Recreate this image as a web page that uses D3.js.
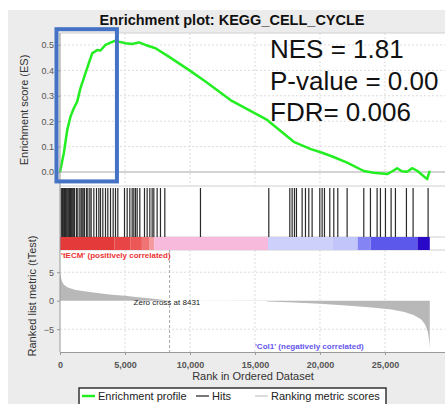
<!DOCTYPE html>
<html>
<head>
<meta charset="utf-8">
<script src="https://cdn.jsdelivr.net/npm/d3@7"></script>
<style>
  body { margin: 0; background: #fff; }
  text { font-family: "Liberation Sans", Arial, sans-serif; }
</style>
</head>
<body>
<script>
// data
var esRanks = [0, 292, 554, 808, 1062, 1323, 1577, 1962, 2215, 2477, 2862, 3115, 3500, 3885, 4269, 4523,
    5038, 5554, 6061, 6577, 7346, 8369, 9907, 11192, 13115, 15938, 17984, 19300, 20169, 21000, 22092,
    23368, 24138, 25169, 25600, 25938, 26300, 26707, 27092, 27477, 28246, 28446];
var esValues = [0, 0.074, 0.165, 0.218, 0.251, 0.277, 0.33, 0.389, 0.428, 0.467, 0.48, 0.478, 0.5, 0.509, 0.517, 0.513,
    0.507, 0.504, 0.51, 0.5, 0.487, 0.454, 0.402, 0.356, 0.283, 0.205, 0.119, 0.09, 0.076, 0.06, 0.037,
    0.004, -0.003, -0.008, 0.004, 0.015, 0.003, 0.001, 0.015, 0.005, -0.028, 0.005];

var hits = [90, 150, 192, 240, 295, 350, 423, 480, 551, 620, 680, 740, 808, 870, 936, 1000, 1064, 1120, 1269, 1372,
    1526, 1628, 1700, 1782, 1885, 2038, 2141, 2295, 2397, 2603, 2808, 2987, 3115, 3295, 3500, 3679, 3885,
    4090, 4269, 4449, 4962, 5167, 5372, 5551, 5679, 5808, 5936, 6141, 6500, 6705, 6910, 7089, 7218, 7474,
    7730, 8064, 10807, 16064, 17679, 17859, 18038, 18192, 18628, 18885, 19141, 19397, 19987, 20166, 20346,
    20756, 21064, 21372, 22090, 23372, 23884, 24397, 24653, 25038, 25474, 25807, 26653, 27166, 28320];

var metricRanks = [0, 60, 150, 300, 600, 1200, 2000, 3000, 4000, 5000, 6000, 7000, 8000, 8431,
    9000, 15900, 15950, 18000, 20000, 22000, 24000, 25500, 26500, 27200, 27800, 28100, 28300, 28400, 28450, 28451];
var metricValues = [4.9, 4.2, 3.4, 2.8, 2.3, 1.9, 1.6, 1.3, 1.05, 0.85, 0.62, 0.4, 0.12, 0,
    -0.02, -0.03, -0.12, -0.3, -0.55, -0.85, -1.2, -1.55, -2.0, -2.5, -3.3, -4.2, -5.5, -7.0, -8.3, 0];

var barStarts = [0, 4200, 5400, 6300, 6900, 7250, 16000, 21000, 22900, 23900, 27500, 28450];
var barColors = ["#e53a3a", "#e84646", "#ec5858", "#f07474", "#f49a9e", "#f7b9dc", "#cdd0fa", "#c2c5f9",
    "#8484f4", "#5c58ec", "#2a08c8"];

var esTicks = [0, 0.1, 0.2, 0.3, 0.4, 0.5];
var metricTicks = [-5, 0, 5];
var rankTicks = [0, 5000, 10000, 15000, 20000, 25000];
var stats = ["NES = 1.81", "P-value = 0.00", "FDR= 0.006"];

var W = 445, H = 404;
var left = 60, right = 445;
var esTop = 33, esBottom = 186, hitsBottom = 237, barBottom = 250, metricBottom = 352;

var svg = d3.select("body").append("svg").attr("width", W).attr("height", H);

// gray frame and white plot areas
svg.append("rect").attr("x", 8).attr("y", 10).attr("width", W - 8).attr("height", H - 10).attr("fill", "#ececec");
svg.append("rect").attr("x", left).attr("y", esTop).attr("width", right - left).attr("height", metricBottom - esTop).attr("fill", "#fff");

var x = d3.scaleLinear().domain([0, 29620]).range([left, right]);
var yES = d3.scaleLinear().domain([-0.055, 0.547]).range([esBottom, esTop]);
var yM = d3.scaleLinear().domain([-9, 8.9]).range([metricBottom, barBottom]);

// grid
var grid = svg.append("g").attr("stroke", "#dcdcdc").attr("stroke-dasharray", "2,2");
rankTicks.slice(1).forEach(function(t) {
    grid.append("line").attr("x1", x(t)).attr("x2", x(t)).attr("y1", esTop).attr("y2", esBottom);
    grid.append("line").attr("x1", x(t)).attr("x2", x(t)).attr("y1", barBottom).attr("y2", metricBottom);
});
esTicks.slice(1).forEach(function(t) {
    grid.append("line").attr("x1", left).attr("x2", right).attr("y1", yES(t)).attr("y2", yES(t));
});
[-5, 5].forEach(function(t) {
    grid.append("line").attr("x1", left).attr("x2", right).attr("y1", yM(t)).attr("y2", yM(t));
});

// ES zero line
svg.append("line").attr("x1", left).attr("x2", right).attr("y1", yES(0)).attr("y2", yES(0))
    .attr("stroke", "#aaa").attr("stroke-width", 1.2);

// panel borders
[esTop, esBottom, hitsBottom, barBottom].forEach(function(yy) {
    svg.append("line").attr("x1", left).attr("x2", right).attr("y1", yy).attr("y2", yy)
        .attr("stroke", "#d0d0d0");
});

// ES curve
var esLine = d3.line()
    .x(function(d) { return x(d[0]); })
    .y(function(d) { return yES(d[1]); });
svg.append("path")
    .datum(esRanks.map(function(r, i) { return [r, esValues[i]]; }))
    .attr("d", esLine)
    .attr("fill", "none")
    .attr("stroke", "#22ee22")
    .attr("stroke-width", 2.5)
    .attr("stroke-linejoin", "round");

// hits
svg.append("g").selectAll("line").data(hits).enter().append("line")
    .attr("x1", function(d) { return x(d); })
    .attr("x2", function(d) { return x(d); })
    .attr("y1", esBottom + 2)
    .attr("y2", hitsBottom)
    .attr("stroke", "#2a2a2a")
    .attr("stroke-width", 1.2);

// color bar
svg.append("g").selectAll("rect").data(barColors).enter().append("rect")
    .attr("x", function(d, i) { return x(barStarts[i]); })
    .attr("width", function(d, i) { return Math.max(0, x(barStarts[i + 1]) - x(barStarts[i])); })
    .attr("y", hitsBottom)
    .attr("height", barBottom - hitsBottom)
    .attr("fill", function(d) { return d; });

// ranked list metric
var area = d3.area()
    .x(function(d) { return x(d[0]); })
    .y0(yM(0))
    .y1(function(d) { return yM(d[1]); });
svg.append("path")
    .datum(metricRanks.map(function(r, i) { return [r, metricValues[i]]; }))
    .attr("d", area)
    .attr("fill", "#b8b8b8");

// zero cross
svg.append("line").attr("x1", x(8431)).attr("x2", x(8431)).attr("y1", barBottom).attr("y2", metricBottom)
    .attr("stroke", "#aaa").attr("stroke-dasharray", "3,2");
svg.append("text").attr("x", x(8431) - 36).attr("y", yM(0) + 4)
    .attr("font-size", 8).attr("fill", "#222").text("Zero cross at 8431");

svg.append("text").attr("x", left + 1).attr("y", barBottom + 8)
    .attr("font-size", 8).attr("font-weight", "bold").attr("fill", "#ee3333")
    .text("'tECM' (positively correlated)");
svg.append("text").attr("x", x(15000)).attr("y", metricBottom - 3)
    .attr("font-size", 8).attr("font-weight", "bold").attr("fill", "#6655ee")
    .text("'Col1' (negatively correlated)");

// axes
function styleAxis(g) {
    g.selectAll(".domain").attr("stroke", "#999");
    g.selectAll(".tick line").attr("stroke", "#999");
    g.selectAll(".tick text").attr("fill", "#555").attr("font-size", 9)
        .attr("font-family", "'Liberation Sans', Arial, sans-serif");
}
var gES = svg.append("g").attr("transform", "translate(" + left + ",0)")
    .call(d3.axisLeft(yES).tickValues(esTicks).tickFormat(d3.format(".1f")).tickSize(3).tickSizeOuter(0));
styleAxis(gES);
gES.select(".domain").attr("d", "M0," + esTop + "V" + esBottom);

var gM = svg.append("g").attr("transform", "translate(" + left + ",0)")
    .call(d3.axisLeft(yM).tickValues(metricTicks).tickSize(3).tickSizeOuter(0));
styleAxis(gM);
gM.select(".domain").attr("d", "M0," + barBottom + "V" + metricBottom);

svg.append("line").attr("x1", left).attr("x2", left).attr("y1", esBottom).attr("y2", barBottom).attr("stroke", "#999");

var gX = svg.append("g").attr("transform", "translate(0," + metricBottom + ")")
    .call(d3.axisBottom(x).tickValues(rankTicks).tickFormat(d3.format(",")).tickSize(3).tickSizeOuter(0));
styleAxis(gX);
gX.selectAll(".tick text").attr("font-weight", "bold").attr("dy", "1.1em");

// titles
svg.append("text").attr("x", 232).attr("y", 25).attr("text-anchor", "middle")
    .attr("font-size", 14.5).attr("font-weight", "bold").attr("fill", "#111")
    .text("Enrichment plot: KEGG_CELL_CYCLE");
svg.append("text").attr("transform", "translate(28,110) rotate(-90)").attr("text-anchor", "middle")
    .attr("font-size", 11).attr("fill", "#333").text("Enrichment score (ES)");
svg.append("text").attr("transform", "translate(36,296) rotate(-90)").attr("text-anchor", "middle")
    .attr("font-size", 11).attr("fill", "#333").text("Ranked list metric (tTest)");
svg.append("text").attr("x", 253).attr("y", 380).attr("text-anchor", "middle")
    .attr("font-size", 11).attr("fill", "#333").text("Rank in Ordered Dataset");

// statistics
svg.append("g").selectAll("text").data(stats).enter().append("text")
    .attr("x", 270)
    .attr("y", function(d, i) { return 58 + i * 31.5; })
    .attr("font-size", 26)
    .attr("fill", "#111")
    .text(function(d) { return d; });

// highlight box
svg.append("rect")
    .attr("x", x(-270)).attr("y", yES(0.562))
    .attr("width", x(4380) - x(-270))
    .attr("height", yES(-0.037) - yES(0.562))
    .attr("fill", "none").attr("stroke", "#4472c4").attr("stroke-width", 4);

// legend
var lg = svg.append("g");
lg.append("rect").attr("x", 79).attr("y", 388).attr("width", 307).attr("height", 22)
    .attr("fill", "#fff").attr("stroke", "#333").attr("stroke-width", 1.5);
var legendItems = [
    {label: "Enrichment profile", color: "#22ee22", x0: 82, w: 2.5},
    {label: "Hits", color: "#777", x0: 196, w: 2},
    {label: "Ranking metric scores", color: "#ddd", x0: 255, w: 2}
];
legendItems.forEach(function(d) {
    lg.append("line").attr("x1", d.x0).attr("x2", d.x0 + 13).attr("y1", 396).attr("y2", 396)
        .attr("stroke", d.color).attr("stroke-width", d.w);
    lg.append("text").attr("x", d.x0 + 16).attr("y", 400).attr("font-size", 11).attr("fill", "#222").text(d.label);
});
</script>
</body>
</html>
